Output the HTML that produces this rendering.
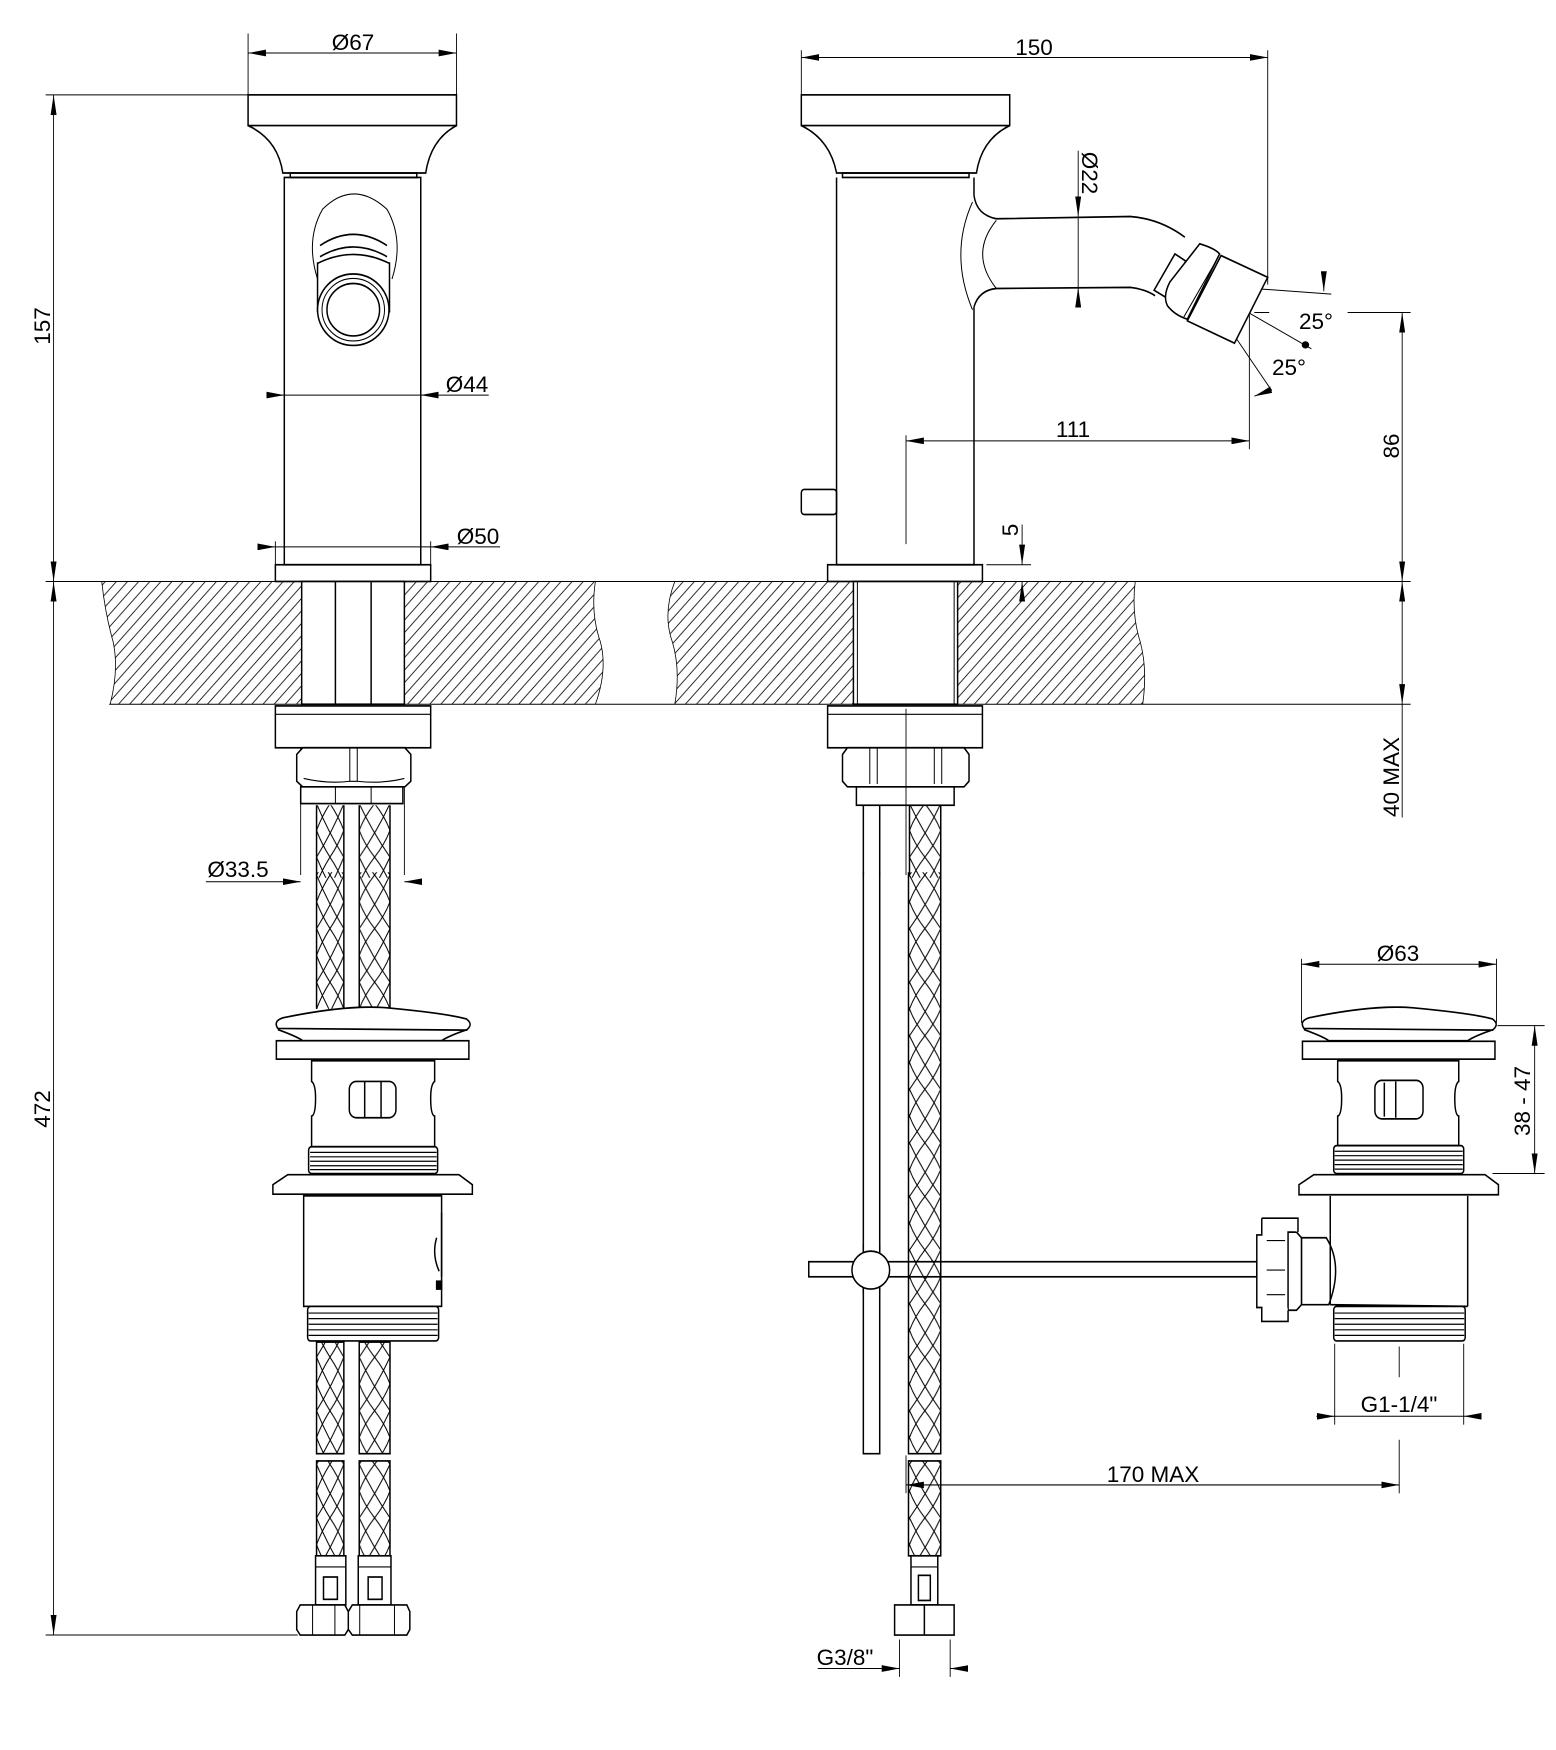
<!DOCTYPE html>
<html><head><meta charset="utf-8"><style>
html,body{margin:0;padding:0;background:#fff}
svg{display:block}
text{font-family:"Liberation Sans",Arial,sans-serif;fill:#000;font-size:22.5px}
</style></head><body>
<svg width="1556" height="1750" viewBox="0 0 1556 1750" xmlns="http://www.w3.org/2000/svg">
<defs>
<marker id="a" viewBox="0 0 36 12" refX="36" refY="6" markerWidth="36" markerHeight="12" markerUnits="userSpaceOnUse" orient="auto-start-reverse"><path d="M0,0 L36,6 L0,12z" fill="#000"/></marker>
<pattern id="h" patternUnits="userSpaceOnUse" width="22.4" height="22.4"><path d="M-2,24.4 L24.4,-2 M-13,13 L13,-13 M9.4,35.4 L35.4,9.4" stroke="#000" stroke-width="1.6"/></pattern>
<pattern id="bA" patternUnits="userSpaceOnUse" x="638" y="0" width="55" height="96"><path d="M0,0 Q22,48 55,96 M55,0 Q33,48 0,96 M27,0 Q45,24 55,48 Q45,72 27,96 M27,0 Q10,24 0,48 Q10,72 27,96" stroke="#000" stroke-width="2" fill="none"/></pattern>
<pattern id="bB" patternUnits="userSpaceOnUse" x="724" y="0" width="62" height="96"><path d="M0,0 Q25,48 62,96 M62,0 Q37,48 0,96 M31,0 Q52,24 62,48 Q52,72 31,96 M31,0 Q10,24 0,48 Q10,72 31,96" stroke="#000" stroke-width="2" fill="none"/></pattern>
<pattern id="bC" patternUnits="userSpaceOnUse" x="265" y="0" width="63" height="96"><path d="M0,0 Q25,48 63,96 M63,0 Q38,48 0,96 M31,0 Q52,24 63,48 Q52,72 31,96 M31,0 Q10,24 0,48 Q10,72 31,96" stroke="#000" stroke-width="2" fill="none"/></pattern>
</defs>
<rect width="1556" height="1750" fill="#fff"/>

<!-- ========== Q1 top-left ========== -->
<g transform="scale(0.49617,0.55804)" fill="none" stroke="#000" stroke-width="3">
 <path d="M205,1042 L608,1042 L608,1262 L222,1262 Q240,1200 228,1150 Q212,1100 205,1042Z" fill="url(#h)" stroke="none"/>
 <path d="M815,1042 L1200,1042 Q1190,1100 1210,1150 Q1225,1200 1200,1262 L815,1262Z" fill="url(#h)" stroke="none"/>
 <path d="M1360,1042 L1569,1042 L1569,1262 L1360,1262 Q1372,1200 1355,1150 Q1335,1100 1360,1042Z" fill="url(#h)" stroke="none"/>
 <path d="M205,1042 Q212,1100 228,1150 Q240,1200 222,1262 M1200,1042 Q1190,1100 1210,1150 Q1225,1200 1200,1262 M1360,1042 Q1335,1100 1355,1150 Q1372,1200 1360,1262" stroke-width="1.6"/>
 <line x1="92" y1="1042" x2="1568" y2="1042" stroke-width="1.8"/>
 <line x1="220" y1="1262" x2="1568" y2="1262" stroke-width="1.8"/>
 <g stroke-width="1.8">
  <line x1="500" y1="60" x2="500" y2="170"/><line x1="920" y1="60" x2="920" y2="170"/>
  <line x1="500" y1="95" x2="920" y2="95" marker-start="url(#a)" marker-end="url(#a)"/>
  <line x1="92" y1="170" x2="500" y2="170"/>
  <line x1="108" y1="170" x2="108" y2="1042" marker-start="url(#a)" marker-end="url(#a)"/>
  <line x1="108" y1="1042" x2="108" y2="1568" marker-start="url(#a)"/>
  <line x1="540" y1="708" x2="573" y2="708" marker-end="url(#a)"/>
  <line x1="985" y1="708" x2="848" y2="708" marker-end="url(#a)"/>
  <line x1="573" y1="708" x2="848" y2="708"/>
  <line x1="555" y1="970" x2="555" y2="1012"/><line x1="868" y1="970" x2="868" y2="1012"/>
  <line x1="520" y1="980" x2="555" y2="980" marker-end="url(#a)"/>
  <line x1="1008" y1="980" x2="868" y2="980" marker-end="url(#a)"/>
  <line x1="555" y1="980" x2="868" y2="980"/>
  <line x1="415" y1="1580" x2="606" y2="1580" marker-end="url(#a)"/>
  <line x1="850" y1="1580" x2="815" y2="1580" marker-end="url(#a)"/>
  <line x1="606" y1="1265" x2="606" y2="1568"/><line x1="815" y1="1265" x2="815" y2="1568"/>
 </g>
 <rect x="500" y="170" width="420" height="55" fill="#fff"/>
 <path d="M500,225 Q560,250 570,310 L858,310 Q868,250 920,225"/>
 <rect x="585" y="310" width="255" height="8"/>
 <rect x="573" y="318" width="275" height="694"/>
 <path d="M640,500 Q615,430 650,375 Q712,320 780,375 Q815,430 790,500" stroke-width="2"/>
 <path d="M640,470 L640,560 M785,470 L785,560 M645,440 Q712,400 780,440 M645,460 Q712,425 780,460 M640,472 Q712,440 785,472"/>
 <ellipse cx="712" cy="555" rx="72" ry="64" fill="#fff"/>
 <ellipse cx="712" cy="555" rx="63" ry="56" stroke-width="2"/>
 <ellipse cx="712" cy="555" rx="53" ry="47"/>
 <rect x="555" y="1012" width="313" height="30"/>
 <rect x="608" y="1042" width="207" height="220" fill="#fff"/>
 <line x1="676" y1="1042" x2="676" y2="1262"/><line x1="748" y1="1042" x2="748" y2="1262"/>
 <rect x="555" y="1265" width="313" height="75" fill="#fff"/>
 <line x1="555" y1="1280" x2="868" y2="1280" stroke-width="2"/>
 <path d="M598,1352 L610,1340 L816,1340 L828,1352 L828,1400 L816,1410 L610,1410 L598,1400Z" fill="#fff"/>
 <path d="M705,1340 L705,1400 L720,1400 L720,1340 M612,1395 Q660,1405 705,1400 M720,1400 Q770,1405 815,1395" stroke-width="2"/>
 <rect x="606" y="1410" width="206" height="30" fill="#fff"/>
 <path d="M676,1410 L676,1440 M748,1410 L748,1440" stroke-width="2"/>
 <rect x="638" y="1443" width="55" height="130" fill="url(#bA)" stroke="none"/>
 <rect x="724" y="1443" width="62" height="130" fill="url(#bB)" stroke="none"/>
 <path d="M638,1443 L638,1568 M693,1443 L693,1568 M724,1443 L724,1568 M786,1443 L786,1568"/>
</g>

<!-- ========== Q3 bottom-left ========== -->
<g transform="translate(0,875) scale(0.49617,0.55804)" fill="none" stroke="#000" stroke-width="3">
 <g stroke-width="1.8">
  <line x1="108" y1="0" x2="108" y2="1362" marker-end="url(#a)"/>
  <line x1="92" y1="1362" x2="600" y2="1362"/>
 </g>
 <rect x="638" y="-5" width="55" height="245" fill="url(#bA)" stroke="none"/>
 <rect x="724" y="-5" width="62" height="245" fill="url(#bB)" stroke="none"/>
 <path d="M638,0 L638,240 M693,0 L693,240 M724,0 L724,240 M786,0 L786,240"/>
 <path d="M560,275 Q550,262 570,256 Q700,232 780,238 Q900,248 940,258 Q955,268 940,278 Z" fill="#fff"/>
 <path d="M560,277 Q600,290 610,297 L890,297 Q905,288 942,277" />
 <rect x="557" y="297" width="388" height="33" fill="#fff"/>
 <path d="M628,333 L628,370 Q636,375 636,400 Q636,430 628,432 L628,487 L876,487 L876,432 Q868,430 868,400 Q868,375 876,370 L876,333Z" fill="#fff"/>
 <rect x="704" y="370" width="94" height="65" rx="14"/>
 <line x1="735" y1="370" x2="735" y2="435"/><line x1="768" y1="370" x2="768" y2="435"/>
 <rect x="622" y="487" width="260" height="48" rx="6" fill="#fff"/>
 <path d="M625,497 L880,497 M625,505 L880,505 M625,513 L880,513 M625,521 L880,521 M625,528 L880,528" stroke-width="2.2"/>
 <path d="M580,537 L925,537 L952,555 L952,572 L550,572 L550,555Z" fill="#fff"/>
 <rect x="612" y="575" width="278" height="198" fill="#fff"/>
 <path d="M890,605 L890,720 M880,650 Q870,680 885,710" stroke-width="3"/>
 <rect x="880" y="728" width="10" height="14" fill="#000"/>
 <rect x="620" y="773" width="264" height="62" rx="6" fill="#fff"/>
 <path d="M622,785 L882,785 M622,795 L882,795 M622,805 L882,805 M622,815 L882,815 M622,825 L882,825" stroke-width="2.2"/>
 <rect x="638" y="837" width="55" height="200" fill="url(#bA)"/>
 <rect x="724" y="837" width="62" height="200" fill="url(#bB)"/>
 <rect x="638" y="1050" width="55" height="170" fill="url(#bA)"/>
 <rect x="724" y="1050" width="62" height="170" fill="url(#bB)"/>
 <path d="M636,1220 L697,1220 L697,1308 L636,1308Z M722,1220 L788,1220 L788,1308 L722,1308Z" fill="#fff"/>
 <rect x="652" y="1258" width="28" height="40"/><rect x="742" y="1258" width="28" height="40"/>
 <path d="M636,1240 L697,1240 M722,1240 L788,1240" stroke-width="2"/>
 <path d="M605,1308 L695,1308 L702,1320 L702,1352 L695,1362 L605,1362 L598,1352 L598,1320Z M710,1308 L820,1308 L826,1320 L826,1352 L820,1362 L710,1362 L702,1352 L702,1320Z" fill="#fff"/>
 <path d="M630,1308 L630,1362 M675,1308 L675,1362 M725,1308 L725,1362 M795,1308 L795,1362" stroke-width="2"/>
</g>

<!-- ========== Q2 top-right ========== -->
<g transform="translate(778,0) scale(0.49617,0.55804)" fill="none" stroke="#000" stroke-width="3">
 <path d="M-1,1042 L720,1042 Q712,1100 730,1150 Q745,1200 735,1262 L-1,1262Z" fill="url(#h)" stroke="none"/>
 <path d="M720,1042 Q712,1100 730,1150 Q745,1200 735,1262" stroke-width="1.6"/>
 <line x1="0" y1="1042" x2="1275" y2="1042" stroke-width="1.8"/>
 <line x1="0" y1="1262" x2="1275" y2="1262" stroke-width="1.8"/>
 <g stroke-width="1.8">
  <line x1="47" y1="90" x2="47" y2="170"/><line x1="987" y1="90" x2="987" y2="510"/>
  <line x1="47" y1="103" x2="987" y2="103" marker-start="url(#a)" marker-end="url(#a)"/>
  <line x1="605" y1="270" x2="605" y2="388" marker-end="url(#a)"/>
  <line x1="605" y1="545" x2="605" y2="515" marker-end="url(#a)"/>
  <line x1="605" y1="388" x2="605" y2="515"/>
  <line x1="258" y1="780" x2="258" y2="975"/><line x1="950" y1="560" x2="950" y2="805"/>
  <line x1="258" y1="790" x2="950" y2="790" marker-start="url(#a)" marker-end="url(#a)"/>
  <line x1="1148" y1="560" x2="1275" y2="560"/><line x1="960" y1="560" x2="990" y2="560"/>
  <line x1="1258" y1="560" x2="1258" y2="1042" marker-start="url(#a)" marker-end="url(#a)"/>
  <line x1="1258" y1="1042" x2="1258" y2="1262" marker-start="url(#a)" marker-end="url(#a)"/>
  <line x1="1258" y1="1262" x2="1258" y2="1465"/>
  <line x1="420" y1="1012" x2="510" y2="1012"/>
  <line x1="492" y1="940" x2="492" y2="1012" marker-end="url(#a)"/>
  <line x1="492" y1="1072" x2="492" y2="1042" marker-end="url(#a)"/>
  <line x1="850" y1="510" x2="1115" y2="527"/>
  <line x1="1100" y1="495" x2="1100" y2="522" marker-end="url(#a)"/>
  <line x1="850" y1="510" x2="1075" y2="625"/>
  <line x1="850" y1="510" x2="995" y2="700"/>
  <line x1="960" y1="710" x2="995" y2="698" marker-start="url(#a)"/>
 </g>
 <ellipse cx="1063" cy="618" rx="6" ry="5" fill="#000"/>
 <rect x="47" y="170" width="420" height="55"/>
 <path d="M47,225 Q105,250 118,310 L400,310 Q410,250 467,225"/>
 <rect x="130" y="310" width="255" height="8"/>
 <path d="M118,318 L118,1012 L395,1012 L395,550 M395,350 L395,318 Z"/>
 <rect x="47" y="877" width="71" height="45" rx="6"/>
 <path d="M395,350 Q400,385 440,392 L710,388 Q770,392 820,425"/>
 <path d="M395,550 Q405,520 440,517 L710,515 Q740,518 760,530"/>
 <path d="M392,362 Q345,455 392,555" stroke-width="2"/>
 <path d="M440,395 Q385,455 440,517" stroke-width="2"/>
 <path d="M800,455 L822,468 L780,532 L758,520Z" fill="#fff"/>
 <path d="M850,437 Q880,445 890,455 L825,572 Q800,565 785,548 Q775,530 790,505Z" fill="#fff"/>
 <path d="M890,455 L880,472 L818,568" stroke-width="2"/>
 <path d="M893,458 L987,497 L920,615 L825,575Z" fill="#fff"/>
 <rect x="100" y="1012" width="312" height="30"/>
 <rect x="152" y="1042" width="210" height="220" fill="#fff"/>
 <line x1="160" y1="1042" x2="160" y2="1262" stroke-width="2"/><line x1="355" y1="1042" x2="355" y2="1262" stroke-width="2"/>
 <rect x="100" y="1265" width="312" height="75" fill="#fff"/>
 <line x1="100" y1="1280" x2="412" y2="1280" stroke-width="2"/>
 <path d="M130,1352 L140,1340 L375,1340 L385,1352 L385,1400 L375,1410 L140,1410 L130,1400Z" fill="#fff"/>
 <path d="M185,1340 L185,1405 M200,1340 L200,1405 M315,1340 L315,1405 M330,1340 L330,1405" stroke-width="2"/>
 <rect x="158" y="1410" width="197" height="33" fill="#fff"/>
 <line x1="258" y1="1270" x2="258" y2="1568" stroke-width="1.8"/>
 <path d="M172,1443 L172,1568 M205,1443 L205,1568"/>
 <rect x="265" y="1443" width="63" height="130" fill="url(#bC)" stroke="none"/>
 <path d="M265,1443 L265,1568 M328,1443 L328,1568"/>
</g>

<!-- ========== Q4 bottom-right ========== -->
<g transform="translate(778,875) scale(0.49617,0.55804)" fill="none" stroke="#000" stroke-width="3">
 <path d="M172,-5 L172,1037 L205,1037 L205,-5"/>
 <rect x="263" y="-5" width="65" height="1042" fill="url(#bC)" stroke="none"/>
 <path d="M263,-5 L263,1037 L328,1037 L328,-5"/>
 <rect x="263" y="1050" width="65" height="170" fill="url(#bC)"/>
 <rect x="268" y="1220" width="54" height="88" fill="#fff"/>
 <rect x="283" y="1255" width="24" height="45"/>
 <line x1="268" y1="1240" x2="322" y2="1240" stroke-width="2"/>
 <path d="M235,1308 L355,1308 L355,1362 L235,1362Z M295,1308 L295,1362" fill="#fff"/>
 <rect x="62" y="693" width="903" height="27" fill="#fff"/>
 <rect x="263" y="690" width="65" height="33" fill="url(#bC)" stroke="none"/>
 <path d="M263,693 L263,720 M328,693 L328,720"/>
 <rect x="172" y="660" width="33" height="90" fill="#fff" stroke="none"/>
 <path d="M172,660 L172,750 M205,660 L205,750"/>
 <ellipse cx="187" cy="708" rx="38" ry="34" fill="#fff"/>
 <g stroke-width="1.8">
  <line x1="245" y1="1370" x2="245" y2="1437"/><line x1="347" y1="1370" x2="347" y2="1437"/>
  <line x1="80" y1="1422" x2="245" y2="1422" marker-end="url(#a)"/>
  <line x1="380" y1="1422" x2="347" y2="1422" marker-end="url(#a)"/>
  <line x1="258" y1="1040" x2="258" y2="1108"/><line x1="1252" y1="1012" x2="1252" y2="1108"/>
  <line x1="258" y1="1093" x2="1252" y2="1093" marker-start="url(#a)" marker-end="url(#a)"/>
  <line x1="1055" y1="150" x2="1055" y2="265"/><line x1="1448" y1="150" x2="1448" y2="265"/>
  <line x1="1055" y1="160" x2="1448" y2="160" marker-start="url(#a)" marker-end="url(#a)"/>
  <line x1="1450" y1="270" x2="1545" y2="270"/><line x1="1440" y1="535" x2="1545" y2="535"/>
  <line x1="1525" y1="270" x2="1525" y2="535" marker-start="url(#a)" marker-end="url(#a)"/>
  <line x1="1122" y1="840" x2="1122" y2="985"/><line x1="1382" y1="840" x2="1382" y2="985"/>
  <line x1="1252" y1="845" x2="1252" y2="900"/>
  <line x1="1085" y1="970" x2="1122" y2="970" marker-end="url(#a)"/>
  <line x1="1415" y1="970" x2="1382" y2="970" marker-end="url(#a)"/>
  <line x1="1122" y1="970" x2="1382" y2="970"/>
 </g>
 <path d="M1060,275 Q1050,262 1070,256 Q1200,232 1280,238 Q1400,248 1440,258 Q1455,268 1440,278 Z" fill="#fff"/>
 <path d="M1060,277 Q1100,290 1110,297 L1390,297 Q1405,288 1442,277"/>
 <rect x="1057" y="298" width="388" height="32" fill="#fff"/>
 <path d="M1128,333 L1128,370 Q1136,375 1136,400 Q1136,430 1128,432 L1128,485 L1372,485 L1372,432 Q1364,430 1364,400 Q1364,375 1372,370 L1372,333Z" fill="#fff"/>
 <rect x="1203" y="368" width="97" height="69" rx="14"/>
 <line x1="1222" y1="372" x2="1222" y2="433"/><line x1="1245" y1="370" x2="1245" y2="435"/>
 <rect x="1120" y="485" width="262" height="50" rx="6" fill="#fff"/>
 <path d="M1122,495 L1380,495 M1122,503 L1380,503 M1122,511 L1380,511 M1122,519 L1380,519 M1122,527 L1380,527" stroke-width="2.2"/>
 <path d="M1080,537 L1425,537 L1452,555 L1452,573 L1050,573 L1050,555Z" fill="#fff"/>
 <path d="M1113,575 L1113,645 M1390,575 L1390,773 M1113,770 L1390,773" />
 <path d="M1055,650 L1105,650 Q1140,700 1110,770 L1055,770 Z" fill="#fff"/>
 <path d="M1045,640 L1055,650 L1055,770 L1045,780 L1028,780 L1028,640Z" fill="#fff"/>
 <path d="M975,615 L1048,615 L1048,640 M975,615 L975,645 L965,645 L965,775 L975,775 L975,800 L1028,800 L1028,780" fill="#fff"/>
 <path d="M985,655 L1022,655 M985,708 L1022,708 M985,752 L1022,752" stroke-width="2"/>
 <path d="M1113,645 L1113,770"/>
 <rect x="1120" y="773" width="265" height="62" rx="6" fill="#fff"/>
 <path d="M1122,785 L1383,785 M1122,795 L1383,795 M1122,805 L1383,805 M1122,815 L1383,815 M1122,825 L1383,825" stroke-width="2.2"/>
</g>

<g text-anchor="middle">
 <text x="353" y="50">Ø67</text>
 <text x="467" y="392">Ø44</text>
 <text x="478" y="544">Ø50</text>
 <text x="238" y="877">Ø33.5</text>
 <text transform="translate(50,326) rotate(-90)">157</text>
 <text transform="translate(50,1109) rotate(-90)">472</text>
 <text x="1034" y="55">150</text>
 <text x="1073" y="437">111</text>
 <text x="1316" y="329">25°</text>
 <text x="1289" y="375">25°</text>
 <text transform="translate(1082,173) rotate(90)">Ø22</text>
 <text transform="translate(1399,446) rotate(-90)">86</text>
 <text transform="translate(1018,530) rotate(-90)">5</text>
 <text transform="translate(1399,777) rotate(-90)">40 MAX</text>
 <text x="845" y="1665">G3/8"</text>
 <text x="1153" y="1482">170 MAX</text>
 <text x="1398" y="961">Ø63</text>
 <text x="1399" y="1412">G1-1/4"</text>
 <text transform="translate(1530,1101) rotate(-90)">38 - 47</text>
</g>
</svg>
</body></html>
